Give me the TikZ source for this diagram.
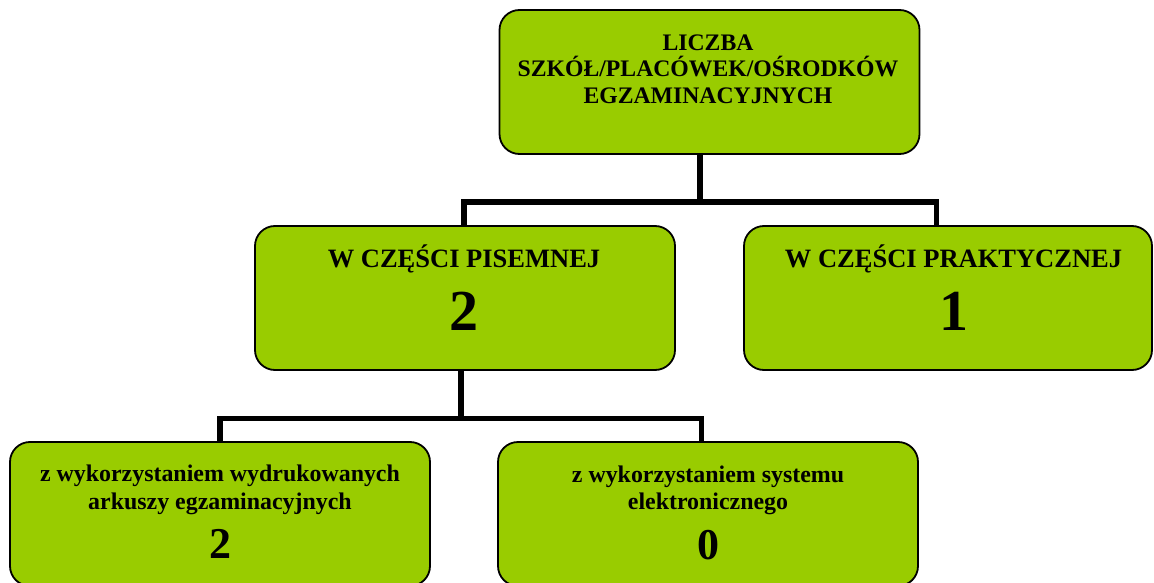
\documentclass[tikz,border=0pt]{standalone}
\usepackage{fontspec}
\setmainfont{Liberation Serif}
\definecolor{boxgreen}{RGB}{153,204,0}
\begin{document}
\begin{tikzpicture}[x=1pt,y=-1pt,
  box/.style={draw=black, line width=1.8pt, fill=boxgreen, rounded corners=20pt, inner sep=0pt, minimum height=144pt},
  toptext/.style={anchor=base, inner sep=0pt, font=\bfseries\fontsize{23.7}{27}\selectfont},
  midtext/.style={anchor=base, inner sep=0pt, font=\bfseries\fontsize{26.5}{30}\selectfont},
  bottext/.style={anchor=base, inner sep=0pt, font=\bfseries\fontsize{23.9}{27}\selectfont},
  bignum/.style={anchor=base, inner sep=0pt, font=\bfseries\fontsize{58}{62}\selectfont},
  midnum/.style={anchor=base, inner sep=0pt, font=\bfseries\fontsize{44}{48}\selectfont},
  conn/.style={line width=5.5pt, draw=black}]
\useasboundingbox (0,0) rectangle (1154,583);
\clip (0,0) rectangle (1154,583);
\fill[white] (0,0) rectangle (1154,583);

% boxes
\node[box, minimum width=420pt] (top) at (709.5,82) {};
\node[box, minimum width=420pt] (pis) at (465,298) {};
\node[box, minimum width=408pt] (prak) at (948,298) {};
\node[box, minimum width=420pt] (wyd) at (220,514) {};
\node[box, minimum width=420pt] (ele) at (708,514) {};

% connectors
\coordinate (j1) at (700,202);
\coordinate (jl) at (464,202);
\coordinate (jr) at (936.5,202);
\draw[conn] (top.south -| j1) -- (j1);
\draw[conn] (pis.north -| jl) |- (jr) -- (jr |- prak.north);

\coordinate (j2) at (461,418.5);
\coordinate (jl2) at (220,418.5);
\coordinate (jr2) at (701.5,418.5);
\draw[conn] (pis.south -| j2) -- (j2);
\draw[conn] (wyd.north -| jl2) |- (jr2) -- (jr2 |- ele.north);

% texts
\node[toptext] (ta) at (708,50.7) {LICZBA};
\node[toptext] (tb) at (708,77) {SZKÓŁ/PLACÓWEK/OŚRODKÓW};
\node[toptext] (tc) at (708,104) {EGZAMINACYJNYCH};

\node[midtext] (pa) at (464,267.7) {W CZĘŚCI PISEMNEJ};
\node[bignum] (pb) at (464,330) {2};

\node[midtext] (ka) at (953.5,267.7) {W CZĘŚCI PRAKTYCZNEJ};
\node[bignum] (kb) at (953.5,330) {1};

\node[bottext] (wa) at (220,481.7) {z wykorzystaniem wydrukowanych};
\node[bottext] (wb) at (220,509) {arkuszy egzaminacyjnych};
\node[midnum] (wc) at (220,558) {2};

\node[bottext] (ea) at (708,482) {z wykorzystaniem systemu};
\node[bottext] (eb) at (708,509) {elektronicznego};
\node[midnum] (ec) at (708,559) {0};
\end{tikzpicture}
\end{document}
